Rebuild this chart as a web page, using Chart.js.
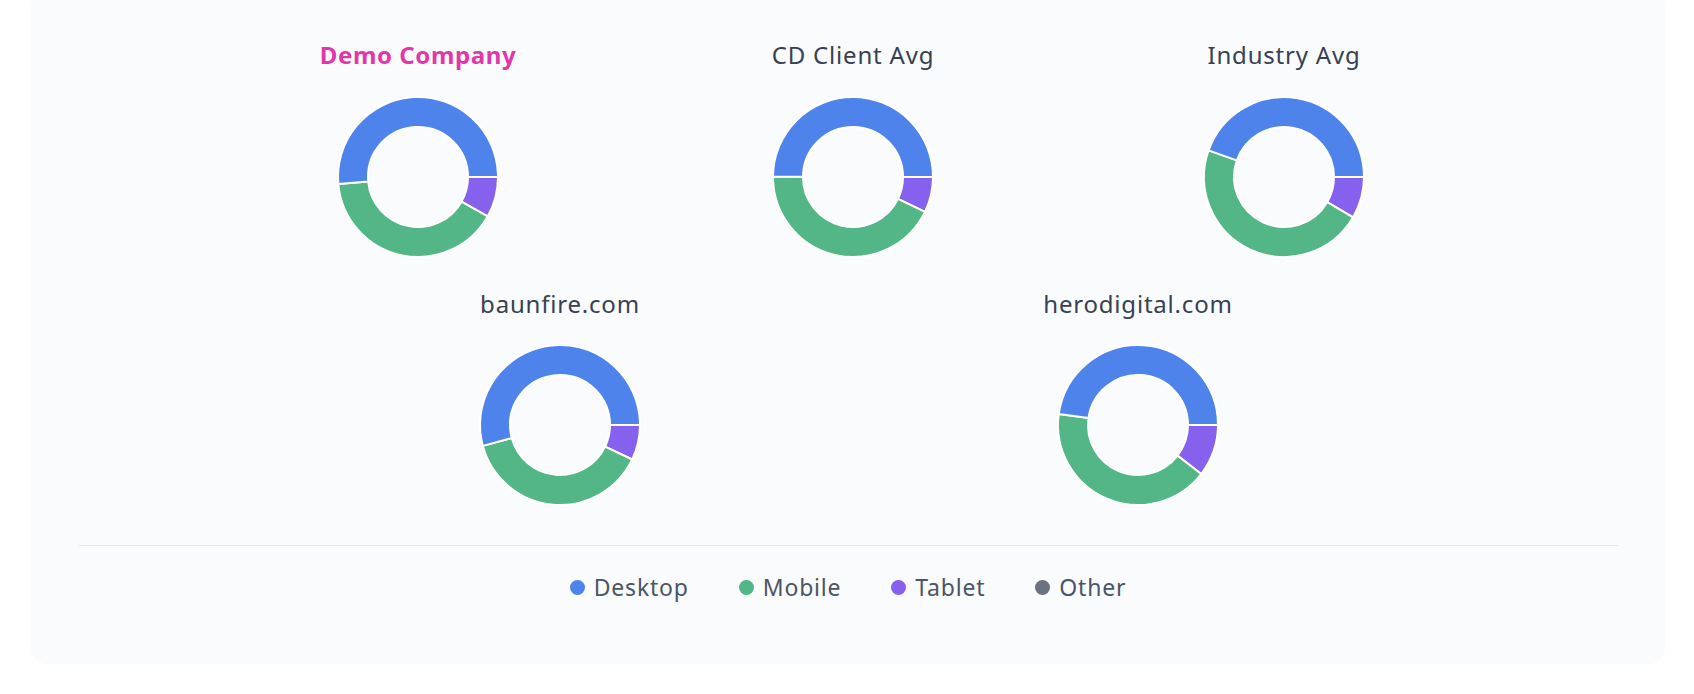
<!DOCTYPE html>
<html>
<head>
<meta charset="utf-8">
<script src="https://cdn.jsdelivr.net/npm/chart.js@4.4.1/dist/chart.umd.min.js"></script>
<style>
  html, body { margin: 0; padding: 0; background: #ffffff; }
  body { width: 1694px; height: 694px; position: relative; overflow: hidden; font-family: "Noto Sans", sans-serif; }
  #card { position: absolute; left: 31px; top: -8px; width: 1634px; height: 672px; border-radius: 16px; background: #fafbfd; }
  .title { position: absolute; width: 400px; margin-left: -200px; text-align: center; font-size: 24px; line-height: 24px; font-weight: 400; color: #374151; white-space: nowrap; letter-spacing: 0.8px; }
  .title.own { color: #e236a9; font-weight: 700; letter-spacing: 0.6px; }
  .box { position: absolute; width: 220px; height: 220px; margin-left: -110px; margin-top: -110px; }
  #sep { position: absolute; left: 79px; width: 1539px; top: 545px; height: 1px; background: #e5e7eb; }
  #legend { position: absolute; left: 0; width: 1694px; top: 575px; height: 24px; display: flex; justify-content: center; align-items: center; gap: 50px; padding-left: 2px; box-sizing: border-box; }
  .item { display: flex; align-items: center; font-size: 23px; line-height: 24px; color: #4b5563; letter-spacing: 0.8px; }
  .dot { width: 15px; height: 15px; border-radius: 50%; margin-right: 9px; }
</style>
</head>
<body>
<div id="card"></div>
<div id="charts"></div>
<div id="sep"></div>
<div id="legend"></div>
<script>
// ---- data ----
const categories = ['Desktop', 'Mobile', 'Tablet', 'Other'];
const chartTitles = ['Demo Company', 'CD Client Avg', 'Industry Avg', 'baunfire.com', 'herodigital.com'];
const desktopShare = [51.4, 49.9, 44.6, 54.2, 47.8];
const mobileShare  = [40.4, 42.9, 47.0, 38.7, 41.7];
const tabletShare  = [8.2, 7.2, 8.4, 7.1, 10.5];
const otherShare   = [0, 0, 0, 0, 0];
const categoryColors = ['#4f83ec', '#53b687', '#8661ee', '#6b7280'];

// ---- layout (page pixels) ----
const centers = [[418, 177], [853, 177], [1284, 177], [560, 425], [1138, 425]];
const titleTops = [43, 43, 43, 292, 292];

const chartsEl = document.getElementById('charts');
const seriesByCat = [desktopShare, mobileShare, tabletShare, otherShare];

chartTitles.forEach((name, i) => {
  const t = document.createElement('div');
  t.className = 'title' + (i === 0 ? ' own' : '');
  t.style.left = centers[i][0] + 'px';
  t.style.top = titleTops[i] + 'px';
  t.textContent = name;
  chartsEl.appendChild(t);

  const box = document.createElement('div');
  box.className = 'box';
  box.style.left = centers[i][0] + 'px';
  box.style.top = centers[i][1] + 'px';
  const cv = document.createElement('canvas');
  box.appendChild(cv);
  chartsEl.appendChild(box);

  // drawn counter-clockwise from 3 o'clock: feed reversed order clockwise
  const order = [3, 2, 1, 0];
  new Chart(cv, {
    type: 'doughnut',
    data: {
      labels: order.map(k => categories[k]),
      datasets: [{
        data: order.map(k => seriesByCat[k][i]),
        backgroundColor: order.map(k => categoryColors[k]),
        borderColor: '#ffffff',
        borderWidth: 2,
        hoverOffset: 0,
        radius: 80,
        cutout: '62.5%'
      }]
    },
    options: {
      responsive: true,
      maintainAspectRatio: false,
      animation: false,
      rotation: 90,
      layout: { padding: 0 },
      plugins: { legend: { display: false }, tooltip: { enabled: false }, title: { display: false } }
    }
  });
});

const legendEl = document.getElementById('legend');
categories.forEach((c, k) => {
  const it = document.createElement('div');
  it.className = 'item';
  const d = document.createElement('span');
  d.className = 'dot';
  d.style.background = categoryColors[k];
  const s = document.createElement('span');
  s.textContent = c;
  it.appendChild(d); it.appendChild(s);
  legendEl.appendChild(it);
});
</script>
</body>
</html>
